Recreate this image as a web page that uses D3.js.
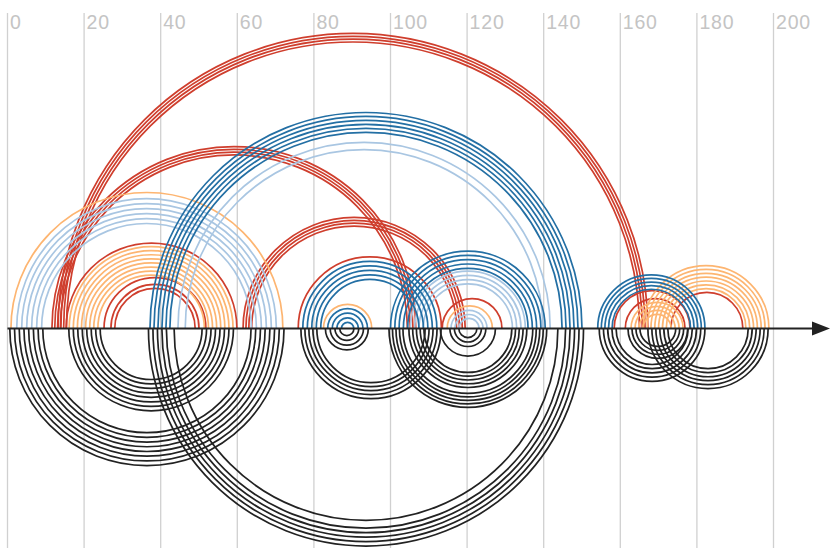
<!DOCTYPE html>
<html>
<head>
<meta charset="utf-8">
<script src="https://cdn.jsdelivr.net/npm/d3@7"></script>
<style>
  body { margin: 0; background: #fff; }
</style>
</head>
<body>
<div id="chart"></div>
<script>
// Tick labels along the top
var ticks = [0, 20, 40, 60, 80, 100, 120, 140, 160, 180, 200];

// Upper (coloured) arc bundles: group, centre, outer radius, strands, gap between strands
var upperGroup  = ["red", "red", "red", "red", "red", "red", "red", "red", "red", "red", "red",
                   "orange", "orange", "orange", "orange", "orange", "orange",
                   "lightblue", "lightblue", "lightblue", "lightblue",
                   "blue", "blue", "blue", "blue", "blue"];
var upperCenter = [90.2, 59.1, 90.5, 37.6, 38.5, 38.5, 94.6, 121.3, 168.3, 169.1, 182.6,
                   36.4, 37.5, 88.8, 120.7, 169.6, 182.4,
                   36.3, 93.1, 120.2, 120.5,
                   93.6, 94.6, 88.8, 120.2, 168.1];
var upperRadius = [77.0, 47.5, 29.0, 22.3, 13.3, 11.5, 18.7, 7.8, 9.9, 7.8, 9.4,
                   35.5, 21.4, 6.3, 5.9, 6.8, 16.4,
                   33.9, 48.6, 15.0, 4.7,
                   56.4, 17.5, 5.2, 20.2, 14.0];
var upperCount  = [4, 4, 4, 1, 1, 2, 1, 1, 1, 1, 1,
                   1, 8, 1, 1, 4, 7,
                   6, 2, 4, 3,
                   6, 5, 4, 5, 5];
var upperGap    = [0.73, 0.73, 0.75, 0, 0, 1.0, 0, 0, 0, 0, 0,
                   0, 1.07, 0, 0, 1.04, 1.0,
                   1.3, 1.9, 1.12, 1.04,
                   1.04, 1.17, 1.2, 1.12, 0.94];

// Lower (black) arc bundles
var lowerCenter = [36.4, 37.5, 93.6, 93.6, 94.9, 88.6, 120.2, 120.2, 120.2, 120.2, 168.3, 169.8, 182.9];
var lowerRadius = [35.8, 21.5, 56.8, 50.1, 18.3, 5.6, 20.6, 15.4, 7.2, 4.7, 13.8, 7.8, 15.7];
var lowerCount  = [8, 8, 5, 1, 5, 4, 5, 5, 1, 3, 5, 4, 6];
var lowerGap    = [1.23, 1.17, 1.17, 0, 1.04, 1.25, 0.91, 0.98, 0, 1.17, 1.1, 1.04, 1.04];

var width = 830, height = 548, axisY = 328.5;

var x = d3.scaleLinear().domain([0, 200]).range([7.5, 773.5]);
var rScale = d3.scaleLinear().domain([0, 200]).range([0, 766]);

var color = d3.scaleOrdinal()
  .domain(["red", "orange", "lightblue", "blue", "black"])
  .range(["#cf3e2d", "#fdb571", "#a9c6e2", "#236fa4", "#222222"]);

var svg = d3.select("#chart").append("svg")
  .attr("width", width)
  .attr("height", height);

// vertical grid lines with labels
var grid = svg.append("g");
grid.selectAll("line").data(ticks).enter().append("line")
  .attr("x1", function (d) { return x(d); })
  .attr("x2", function (d) { return x(d); })
  .attr("y1", 13)
  .attr("y2", height)
  .attr("stroke", "#d0d0d0")
  .attr("stroke-width", 1.3);
grid.selectAll("text").data(ticks).enter().append("text")
  .attr("x", function (d) { return x(d) + 2.5; })
  .attr("y", 28.5)
  .attr("font-family", "Liberation Sans, Arial, sans-serif")
  .attr("font-size", 19.5)
  .attr("letter-spacing", 0.8)
  .attr("fill", "#c4c4c4")
  .text(function (d) { return d; });

// expand bundles into single strands
function strands(centers, radii, counts, gaps, groups, upper) {
  var out = [];
  centers.forEach(function (c, i) {
    d3.range(counts[i]).forEach(function (k) {
      out.push({ c: c, r: radii[i] - k * gaps[i], g: groups ? groups[i] : "black", upper: upper });
    });
  });
  return out;
}

function arcPath(d) {
  var p = d3.path();
  var cx = x(d.c), r = rScale(d.r);
  if (d.upper) {
    p.moveTo(cx - r, axisY);
    p.arc(cx, axisY, r, Math.PI, 2 * Math.PI);
  } else {
    p.moveTo(cx + r, axisY);
    p.arc(cx, axisY, r, 0, Math.PI);
  }
  return p.toString();
}

var upper = strands(upperCenter, upperRadius, upperCount, upperGap, upperGroup, true);
var lower = strands(lowerCenter, lowerRadius, lowerCount, lowerGap, null, false);

svg.append("g").selectAll("path").data(lower).enter().append("path")
  .attr("d", arcPath)
  .attr("fill", "none")
  .attr("stroke", color("black"))
  .attr("stroke-width", 1.7);

svg.append("g").selectAll("path").data(upper).enter().append("path")
  .attr("d", arcPath)
  .attr("fill", "none")
  .attr("stroke", function (d) { return color(d.g); })
  .attr("stroke-width", 1.7);

// horizontal axis with arrow head
svg.append("line")
  .attr("x1", x(0))
  .attr("x2", 815)
  .attr("y1", axisY)
  .attr("y2", axisY)
  .attr("stroke", "#222")
  .attr("stroke-width", 2);
svg.append("path")
  .attr("d", "M812," + (axisY - 7) + "L830," + axisY + "L812," + (axisY + 7) + "Z")
  .attr("fill", "#222");
</script>
</body>
</html>
